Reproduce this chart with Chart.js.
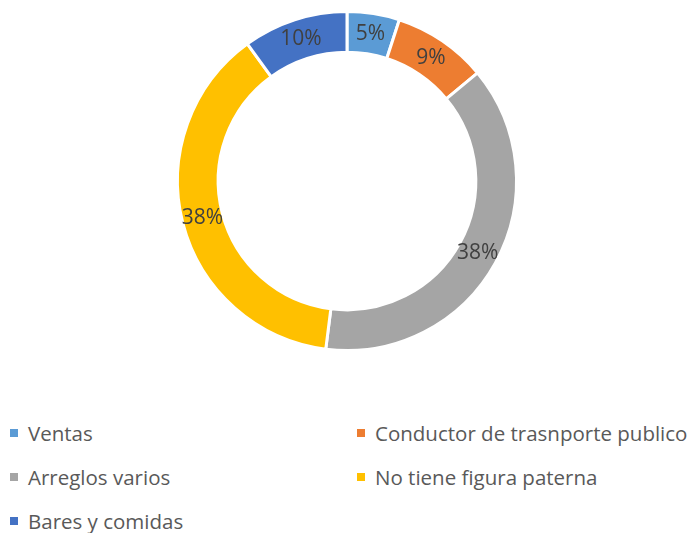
<!DOCTYPE html>
<html>
<head>
<meta charset="utf-8">
<script src="https://cdn.jsdelivr.net/npm/chart.js@4"></script>
<style>
  html, body { margin: 0; padding: 0; background: #fff; }
  #wrap { position: relative; width: 694px; height: 533px; overflow: hidden; }
  #chartBox { position: absolute; left: 0; top: 0; width: 694px; height: 364px; }
  #legend { position: absolute; left: 10px; top: 420px; width: 684px;
    display: grid; grid-template-columns: 347px 337px; row-gap: 18px;
    font-family: "Open Sans", sans-serif; font-size: 20.5px; color: #595959; }
  .item { display: flex; align-items: center; height: 26px; white-space: nowrap; }
  .box { width: 8px; height: 8px; margin-right: 10px; }
</style>
</head>
<body>
<div id="wrap">
  <div id="chartBox"><canvas id="donut"></canvas></div>
  <div id="legend"></div>
</div>
<script>
const labels = ["Ventas", "Conductor de trasnporte publico", "Arreglos varios", "No tiene figura paterna", "Bares y comidas"];
const percents = [5, 9, 38, 38, 10];
const colors = ["#5B9BD5", "#ED7D31", "#A5A5A5", "#FFC000", "#4472C4"];

// percentage text in the middle of each ring segment
const sliceLabels = {
  id: "sliceLabels",
  afterDatasetsDraw(chart) {
    const ctx = chart.ctx;
    const meta = chart.getDatasetMeta(0);
    ctx.save();
    ctx.font = "21px 'Open Sans', sans-serif";
    ctx.fillStyle = "#404040";
    ctx.textAlign = "center";
    ctx.textBaseline = "middle";
    meta.data.forEach((arc, i) => {
      const p = arc.tooltipPosition();
      ctx.fillText(percents[i] + "%", p.x, p.y);
    });
    ctx.restore();
  }
};

new Chart(document.getElementById("donut"), {
  type: "doughnut",
  data: {
    labels: labels,
    datasets: [{
      data: percents,
      backgroundColor: colors,
      borderColor: "#ffffff",
      borderWidth: 3
    }]
  },
  options: {
    responsive: true,
    maintainAspectRatio: false,
    animation: false,
    cutout: "76%",
    layout: { padding: { top: 10, bottom: 12 } },
    plugins: {
      legend: { display: false },
      tooltip: { enabled: false }
    }
  },
  plugins: [sliceLabels]
});

// two-column legend below the ring
const legend = document.getElementById("legend");
labels.forEach((name, i) => {
  const item = document.createElement("div");
  item.className = "item";
  const box = document.createElement("span");
  box.className = "box";
  box.style.background = colors[i];
  item.appendChild(box);
  item.appendChild(document.createTextNode(name));
  legend.appendChild(item);
});
</script>
</body>
</html>
